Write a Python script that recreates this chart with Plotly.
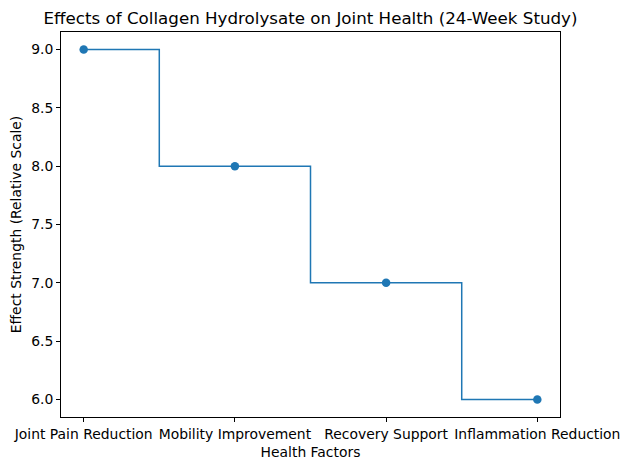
import plotly.graph_objects as go

categories = ["Joint Pain Reduction", "Mobility Improvement", "Recovery Support", "Inflammation Reduction"]
values = [9, 8, 7, 6]
ytick_vals = [6.0, 6.5, 7.0, 7.5, 8.0, 8.5, 9.0]
ytick_text = ["6.0", "6.5", "7.0", "7.5", "8.0", "8.5", "9.0"]

color = "#1f77b4"
xi = list(range(len(categories)))

# page body has an 8px default margin, so the figure is sized to the remaining viewport
W, H = 621, 462

fig = go.Figure()
fig.add_trace(go.Scatter(x=xi, y=values, mode="lines", line=dict(shape="hvh", color=color, width=1.5),
                         hoverinfo="skip", showlegend=False))
fig.add_trace(go.Scatter(x=xi, y=values, mode="markers", marker=dict(color=color, size=8.5),
                         showlegend=False))

font = dict(family="DejaVu Sans", size=13.9, color="black")
fig.update_layout(
    width=W, height=H,
    margin=dict(l=53, r=69, t=24, b=53, autoexpand=False),
    paper_bgcolor="white", plot_bgcolor="white",
    font=font,
    title=dict(text="Effects of Collagen Hydrolysate on Joint Health (24-Week Study)",
               xref="paper", x=0.5, xanchor="center", y=1 - 10 / H, yanchor="middle",
               font=dict(family="DejaVu Sans", size=16.7, color="black")),
    xaxis=dict(range=[-0.15, 3.15], tickmode="array", tickvals=xi, ticktext=categories,
               showgrid=False, zeroline=False, showline=True, linecolor="black", linewidth=1, mirror=True,
               ticks="outside", ticklen=4, tickcolor="black", automargin=False,
               title=dict(text="Health Factors", font=font, standoff=6)),
    yaxis=dict(range=[5.85, 9.15], tickmode="array", tickvals=ytick_vals, ticktext=ytick_text,
               showgrid=False, zeroline=False, showline=True, linecolor="black", linewidth=1, mirror=True,
               ticks="outside", ticklen=4, tickcolor="black", automargin=False,
               title=dict(text="Effect Strength (Relative Scale)", font=font, standoff=6)),
)
fig.write_html("out.html")
